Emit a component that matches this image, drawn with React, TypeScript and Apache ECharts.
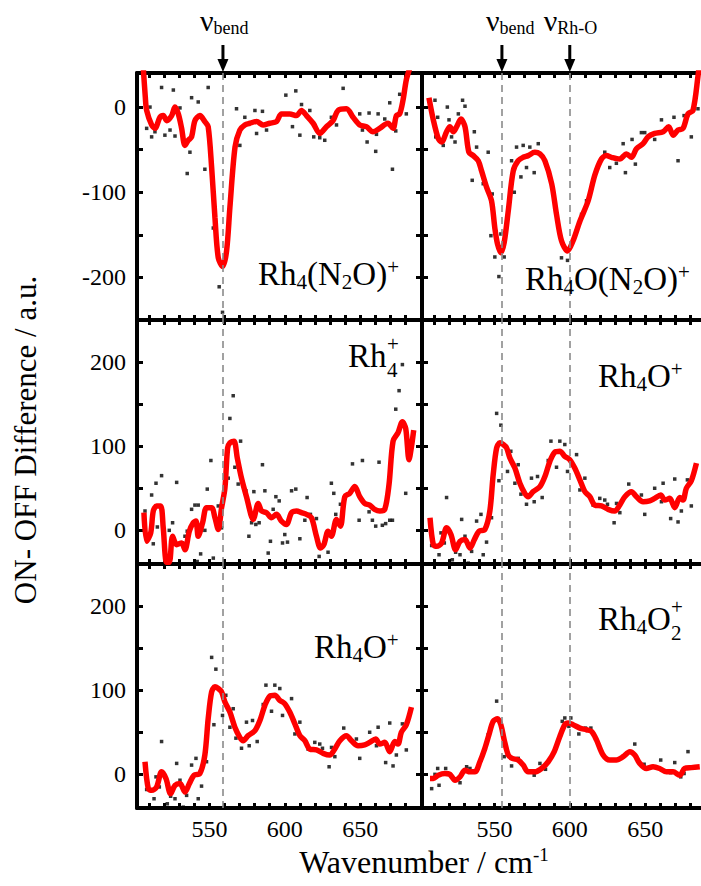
import React, { useEffect, useRef } from "react";
import * as echarts from "echarts";

const SERIF = "Liberation Serif";

// ---- axes ----
const X_MIN = 502;
const X_MAX = 691;
const X_TICKS = [510, 520, 530, 540, 550, 560, 570, 580, 590, 600, 610, 620, 630, 640, 650, 660, 670, 680];
const X_LABELS = [550, 600, 650];
const TOP_MIN = -250;
const TOP_MAX = 40;
const TOP_TICKS = [-200, -150, -100, -50, 0];
const TOP_LABELS = [-200, -100, 0];
const LOW_MIN = -40;
const LOW_MAX = 250;
const LOW_TICKS = [0, 50, 100, 150, 200];
const LOW_LABELS = [0, 100, 200];

// marker positions (cm^-1)
const BEND_LEFT = 559;
const BEND_RIGHT = 555;
const RHO_RIGHT = 600;

// ---- Rh4(N2O)+ ----
const rh4n2oLine = [
  [506.2, 45], [507.5, 12], [508.4, -4], [511.7, -21], [513.9, -25], [517.2, -12], [519.4, -10], [521.7, -16],
  [525, -10], [527.2, 0], [529.4, -8], [531.6, -25], [533.8, -45], [536, -39], [538.2, -35], [540.4, -16],
  [543.7, -10], [547, -17], [549.2, -23], [551.5, -71], [553.7, -130], [555.9, -177], [558.8, -187], [561.4, -169],
  [563.6, -118], [567, -47], [570.2, -27], [573.5, -21], [576.8, -19], [581.3, -17], [585.6, -21], [590, -19],
  [594.5, -17], [597.8, -8], [603.3, -8], [607.8, -10], [611, -4], [614.4, -10], [618.8, -19], [623.2, -31],
  [627.6, -23], [632, -16], [635.3, -4], [640.9, -2], [645.3, -12], [649.7, -21], [654.1, -23], [658.5, -29],
  [662.9, -25], [668.4, -19], [671.8, -25], [674, -10], [676.2, -8], [678.4, 8], [680.6, 32], [682.8, 45],
];
const rh4n2oDots = [
  [518.3, 23], [526.1, 20], [510.6, 0], [508.4, -25], [511.7, -35], [513.9, -29], [520.5, -33], [523.9, -27],
  [527.2, -34], [530.5, -1], [538.2, 11], [542.6, 6], [549.2, 23], [537.1, -53], [535.3, -78], [547, -73],
  [552.6, -142], [556.5, -211], [558.7, -241], [568, -2], [570.2, -45], [573.5, -12], [580.2, -4], [585.2, -5],
  [581.3, -31], [587.9, -27], [600.7, 14], [607.3, 19], [611.1, 3], [605.1, -23], [610, -33], [616.6, -4],
  [619.2, -35], [623.2, -36], [626.5, -39], [630.9, -12], [638.7, 22], [634.3, -21], [649.7, -8], [651.5, -27],
  [654.6, -41], [660.3, -52], [655.9, -7], [661.9, -8], [666.3, -14], [669.6, 5], [671.4, -73], [673.6, -28],
  [676.2, 15], [680.6, -8], [660.8, -32],
];

// ---- Rh4O(N2O)+ ----
const rh4on2oLine = [
  [506.6, 11], [509.5, -15], [512.8, -37], [515, -41], [518.3, -29], [520.5, -23], [522.8, -29], [525, -23],
  [527.8, -14], [530.5, -23], [533.1, -53], [536, -57], [539.3, -63], [541.5, -75], [544.8, -94], [548.1, -110],
  [550.3, -142], [552.1, -161], [554.3, -171], [556.5, -159], [559.2, -122], [562.5, -75], [565.8, -63], [569.1, -59],
  [572.4, -57], [576.8, -53], [580.2, -55], [583.5, -63], [588, -90], [591.2, -126], [594.5, -157], [598.5, -169],
  [602.2, -157], [606.7, -134], [612.2, -110], [616.6, -80], [621, -61], [624.3, -57], [627.6, -59], [633.1, -61],
  [637.6, -55], [640.9, -59], [644.2, -49], [648.6, -43], [651.9, -35], [656.3, -31], [661.9, -29], [665.6, -23],
  [668.5, -33], [671.8, -27], [675.1, -25], [678.4, -8], [681.7, -4], [685, 36], [686.5, 60],
];
const rh4on2oDots = [
  [510.6, 8], [512.4, -12], [511.1, -35], [516.1, -45], [518.8, 0], [519.9, -15], [521.6, -35], [523.9, -41],
  [526.1, -8], [528.9, 8], [530.5, 1], [536.7, -29], [538.2, -47], [535.3, -86], [542.6, -90], [545.9, -53],
  [548.6, -102], [547.7, -151], [550.3, -176], [553, -199], [556.5, -176], [554.3, -149], [563.2, -100], [561.4, -63],
  [564.7, -47], [567.6, -82], [569.1, -45], [571.3, -71], [573.5, -47], [576.4, -77], [579.1, -43], [594.5, -177],
  [598.5, -180], [607.8, -126], [611.1, -110], [623.2, -53], [626.5, -71], [630.9, -66], [635.4, -43], [636.9, -77],
  [641.3, -38], [643.5, -67], [647.5, -30], [649.7, -30], [656.3, -38], [660.8, -15], [669.1, -12], [671.8, -63],
  [675.8, -10], [680.6, -35], [685, -2],
];

// ---- Rh4+ ----
const rh4Line = [
  [506.6, 21], [508.4, -13], [511.1, -3], [512.8, 23], [515, 29], [517.7, 29], [519.4, 3], [521.6, -38],
  [523.4, -38], [525.6, -7], [528.3, -17], [531.6, -15], [533.8, -23], [536.7, -1], [539.3, 9], [541.1, 11],
  [542.6, -7], [545.5, 9], [548.1, 27], [551.5, 27], [553.7, 15], [555.9, 1], [558.1, 27], [560.3, 50],
  [562.1, 98], [563.6, 104], [566.3, 106], [568.5, 86], [571.3, 62], [574.6, 40], [579.1, 13], [582.4, 32],
  [584.6, 23], [587.9, 21], [591.2, 15], [594.5, 19], [597.8, 11], [601.1, 7], [604.5, 21], [607.8, 23],
  [611.1, 21], [614.4, 19], [617.7, 15], [621, -7], [623.7, -21], [625.9, -17], [628.7, -1], [630.9, -7],
  [634.3, 13], [636.9, 5], [639.8, 40], [643.1, 44], [646.4, 52], [649.7, 40], [653, 32], [656.3, 30],
  [659.6, 25], [663, 23], [666.3, 25], [669.1, 54], [671.8, 106], [675.1, 116], [678, 129], [680.2, 121],
  [682.4, 84], [683.9, 98], [685.5, 119],
];
const rh4Dots = [
  [507.3, 23], [511.7, 42], [512.8, -16], [514.6, 56], [515.5, 4], [518.3, 65], [523.4, 0], [525.6, 9],
  [528.3, 57], [532.2, -15], [533.8, -7], [535.3, -1], [538.2, 25], [540.4, 30], [542.6, 30], [541.9, -37],
  [544.2, -28], [547, 0], [548.6, 49], [551, 83], [552.6, -33], [555.9, 29], [558.1, 3], [562.5, 62],
  [563.6, 133], [565.8, 160], [566.9, 75], [569.1, 55], [570.7, 106], [574.2, 47], [576.2, -7], [578, 9],
  [579.5, 46], [580.8, 7], [583, 9], [585.2, 78], [586.8, 47], [589, -27], [590.5, -13], [592.3, 25],
  [594.1, 40], [596.3, 35], [598.5, -15], [600, -5], [601.8, -14], [604.5, 47], [607.3, 49], [610, -10],
  [613.3, 12], [614.8, 39], [617, 19], [621, 14], [622.8, -31], [628.7, -26], [630.9, 56], [632.5, 44],
  [633.8, 19], [636.9, 31], [644.9, 79], [649.3, 12], [651.5, 83], [655.9, 22], [658.1, 12], [660.3, 5],
  [662.5, 81], [664.7, 6], [666.9, 8], [669.6, 12], [671.4, 12], [673.6, 144], [675.8, 166], [678, 197],
  [680.2, 44],
];

// ---- Rh4O+ ----
const rh4oLine = [
  [507.3, 15], [509.5, -17], [511.7, -19], [515, -15], [518.3, 3], [521.2, -5], [524.3, -23], [527.2, -13],
  [530.5, -11], [533.8, -21], [536.7, -11], [539.8, -1], [543.7, 1], [547, 23], [549.2, 66], [551.5, 98],
  [553.7, 104], [555.9, 102], [558.1, 98], [560.3, 86], [563.6, 74], [566.9, 56], [570.2, 44], [572.4, 40],
  [575.7, 46], [580.2, 52], [583.5, 64], [586.8, 82], [590.1, 93], [593.4, 94], [596.7, 88], [600, 84],
  [603.3, 74], [606.7, 60], [610, 46], [613.3, 40], [616.6, 30], [621, 29], [625.4, 25], [629.8, 23],
  [633.1, 30], [636.5, 40], [640.9, 46], [644.2, 40], [648.6, 34], [653, 35], [656.3, 38], [660.3, 42],
  [663, 36], [666.3, 38], [669.6, 27], [673, 39], [675.1, 36], [677.3, 50], [680.6, 59], [684, 80],
];
const rh4oDots = [
  [508.4, -18], [513.3, -29], [514.6, -3], [518.3, 39], [516.8, -15], [522.1, -35], [524.3, -26], [528.3, 13],
  [530.5, -7], [527.2, -29], [532.7, -39], [534.9, -25], [538.2, 11], [541.1, 19], [542.6, -29], [544.8, -14],
  [548.1, 15], [551.5, 139], [554.3, 125], [553, 59], [560.9, 94], [563.6, 56], [565.8, 78], [558.7, 70],
  [567.6, 43], [571.3, 31], [574.6, 62], [576.4, 34], [578.6, 64], [581.7, 39], [585.7, 83], [587.5, 106],
  [591.2, 75], [593.4, 106], [596.7, 102], [598.5, 70], [604.5, 90], [606.7, 48], [610, 62], [615.5, 30],
  [619.9, 38], [623.2, 36], [625, 31], [629.4, 9], [631, 32], [633.2, 21], [639.1, 55], [647.5, 42],
  [649.7, 19], [656.3, 50], [661.9, 56], [660.8, 34], [666.9, 14], [669.6, 61], [671.8, 10], [674, 23],
  [678, 60], [680.6, 29],
];

// ---- Rh4O2+ ----
const rh4o2Line = [
  [507.3, -5], [509.5, -5], [512.8, -1], [517.2, 1], [520.5, 0], [523.9, -7], [527.2, -3], [530.5, 5],
  [533.8, 3], [537.1, 3], [540.4, 15], [543.7, 31], [546.4, 47], [549.2, 63], [552.1, 66], [554.3, 59],
  [556.5, 41], [559.2, 23], [561.8, 19], [565.8, 17], [569.1, 11], [572.4, 3], [576.8, 3], [581.3, 7],
  [585.7, 15], [589.7, 27], [593.4, 45], [596.7, 59], [598.9, 61], [602.2, 59], [606.7, 55], [611.1, 53],
  [614.4, 51], [617.7, 41], [622.1, 23], [626.5, 17], [630.9, 17], [635.4, 21], [639.8, 27], [643.1, 23],
  [646.4, 13], [650.8, 7], [655.2, 9], [659.6, 7], [664.1, 3], [668.5, 3], [672.9, -1], [676.2, 7],
  [680.6, 8], [686.2, 9],
];
const rh4o2Dots = [
  [508.4, -17], [510.6, 0], [512.4, 7], [513.3, -13], [517.7, 7], [527.2, -10], [531.6, 9], [535.3, 3],
  [533.8, 7], [541.1, 17], [545.9, 47], [551.5, 87], [556.5, 21], [561.4, 10], [565.8, 19], [573.5, 4],
  [576.4, -1], [580.2, 13], [583.9, 6], [595, 63], [596.7, 67], [599.4, 57], [600.7, 67], [606, 48],
  [610.4, 55], [614, 55], [628.7, 17], [643.1, 36], [649.3, 12], [651.5, 8], [660.3, 17], [666.9, 2],
  [669.6, 14], [673.6, -3], [675.8, 1], [678.4, 27],
];

const panels = [
  { line: rh4n2oLine, dots: rh4n2oDots, col: 0, row: 0, marks: [BEND_LEFT] },
  { line: rh4on2oLine, dots: rh4on2oDots, col: 1, row: 0, marks: [BEND_RIGHT, RHO_RIGHT] },
  { line: rh4Line, dots: rh4Dots, col: 0, row: 1, marks: [BEND_LEFT] },
  { line: rh4oLine, dots: rh4oDots, col: 1, row: 1, marks: [BEND_RIGHT, RHO_RIGHT] },
  { line: rh4oLine, dots: rh4oDots, col: 0, row: 2, marks: [BEND_LEFT] },
  { line: rh4o2Line, dots: rh4o2Dots, col: 1, row: 2, marks: [BEND_RIGHT, RHO_RIGHT] },
];

const COL_LEFT = [137, 422];
const COL_WIDTH = 285;
const ROW_TOP = [73, 320, 564];
const ROW_HEIGHT = [247, 244, 244];

const FRAME = { color: "#000", width: 4 };

const richStyles: any = {
  m: { fontSize: 33, lineHeight: 36, fontFamily: SERIF, fill: "#000" },
  s: { fontSize: 21, lineHeight: 14, verticalAlign: "bottom", fontFamily: SERIF, fill: "#000" },
  p: { fontSize: 21, lineHeight: 14, verticalAlign: "top", fontFamily: SERIF, fill: "#000" },
  v: { fontSize: 30, lineHeight: 34, fontFamily: SERIF, fill: "#000" },
  b: { fontSize: 18, lineHeight: 12, verticalAlign: "bottom", fontFamily: SERIF, fill: "#000" },
  t: { fontSize: 32, lineHeight: 34, fontFamily: SERIF, fill: "#000" },
  e: { fontSize: 19, lineHeight: 12, verticalAlign: "top", fontFamily: SERIF, fill: "#000" },
};

function richText(text: string, x: number, y: number, align = "left"): any {
  return {
    type: "text",
    x,
    y,
    z: 20,
    silent: true,
    style: { text, rich: richStyles, align, verticalAlign: "middle", fontFamily: SERIF, fontSize: 33, fill: "#000" },
  };
}

function plainText(text: string, x: number, y: number, size: number, align = "center", rotation = 0): any {
  return {
    type: "text",
    x,
    y,
    rotation,
    z: 20,
    silent: true,
    style: {
      text,
      font: `${size}px ${SERIF}`,
      fontSize: size,
      fontFamily: SERIF,
      fill: "#000",
      align,
      verticalAlign: "middle",
    },
  };
}

function arrow(x: number): any[] {
  return [
    { type: "line", z: 20, silent: true, shape: { x1: x, y1: 45, x2: x, y2: 62 }, style: { stroke: "#000", lineWidth: 3 } },
    { type: "polygon", z: 20, silent: true, shape: { points: [[x - 5.5, 59], [x + 5.5, 59], [x, 72]] }, style: { fill: "#000" } },
  ];
}

export default function App() {
  const ref = useRef<HTMLDivElement>(null);
  useEffect(() => {
    const el = ref.current!;
    const chart = echarts.init(el, null, { renderer: "svg" });
    const grid: any[] = [];
    const xAxis: any[] = [];
    const yAxis: any[] = [];
    const series: any[] = [];
    panels.forEach((p, i) => {
      grid.push({
        left: COL_LEFT[p.col],
        top: ROW_TOP[p.row],
        width: COL_WIDTH,
        height: ROW_HEIGHT[p.row],
        containLabel: false,
        outerBoundsMode: "none",
      });
      const isTop = p.row === 0;
      const yMin = isTop ? TOP_MIN : LOW_MIN;
      const yMax = isTop ? TOP_MAX : LOW_MAX;
      const yTicks = isTop ? TOP_TICKS : LOW_TICKS;
      const yLabels = isTop ? TOP_LABELS : LOW_LABELS;
      ["bottom", "top"].forEach((pos, k) => {
        xAxis.push({
          type: "value",
          gridIndex: i,
          position: pos,
          min: X_MIN,
          max: X_MAX,
          axisLine: { show: true, onZero: false, lineStyle: FRAME },
          axisTick: { show: true, inside: true, length: 5, customValues: X_TICKS, lineStyle: { color: "#000", width: 3 } },
          axisLabel: {
            show: k === 0 && p.row === 2,
            customValues: X_LABELS,
            fontSize: 24,
            fontFamily: SERIF,
            color: "#000",
            margin: 9,
          },
          splitLine: { show: false },
        });
      });
      ["left", "right"].forEach((pos, k) => {
        yAxis.push({
          type: "value",
          gridIndex: i,
          position: pos,
          min: yMin,
          max: yMax,
          axisLine: { show: true, onZero: false, lineStyle: FRAME },
          axisTick: { show: true, inside: true, length: 6, customValues: yTicks, lineStyle: { color: "#000", width: 3 } },
          axisLabel: {
            show: k === 0 && p.col === 0,
            customValues: yLabels,
            fontSize: 24,
            fontFamily: SERIF,
            color: "#000",
            margin: 11,
          },
          splitLine: { show: false },
        });
      });
      series.push({
        type: "scatter",
        xAxisIndex: 2 * i,
        yAxisIndex: 2 * i,
        data: p.dots,
        symbol: "rect",
        symbolSize: 3.5,
        itemStyle: { color: "#000" },
        z: 2,
        silent: true,
      });
      series.push({
        type: "line",
        xAxisIndex: 2 * i,
        yAxisIndex: 2 * i,
        data: p.line,
        showSymbol: false,
        smooth: 0.3,
        clip: true,
        lineStyle: { color: "#ff0000", width: 5.5 },
        z: 3,
        silent: true,
        markLine: {
          silent: true,
          symbol: ["none", "none"],
          label: { show: false },
          lineStyle: { color: "#8a8a8a", type: [7, 5], width: 1.6 },
          data: p.marks.map((v) => ({ xAxis: v })),
        },
      });
    });

    chart.setOption({ animation: false, grid, xAxis, yAxis, series });

    const xl = chart.convertToPixel({ xAxisIndex: 0 }, BEND_LEFT) as number;
    const xb = chart.convertToPixel({ xAxisIndex: 2 }, BEND_RIGHT) as number;
    const xr = chart.convertToPixel({ xAxisIndex: 2 }, RHO_RIGHT) as number;

    // Stacked sub/superscripts placed beside the main glyphs ("Rh" ≈ 38.5px, "Rh4O" ≈ 73px wide at 33px)
    const graphic: any[] = [
      ...arrow(xl),
      ...arrow(xb),
      ...arrow(xr),
      richText("{v|ν}{b|bend}", xl - 23, 20),
      richText("{v|ν}{b|bend}", xb - 16, 20),
      richText("{v|ν}{b|Rh-O}", xr - 26, 20),
      richText("{m|Rh}{s|4}{m|(N}{s|2}{m|O)}{p|+}", 258, 274),
      richText("{m|Rh}{s|4}{m|O(N}{s|2}{m|O)}{p|+}", 525, 279),
      plainText("Rh", 348, 356, 33, "left"),
      plainText("4", 387, 370, 21, "left"),
      plainText("+", 387, 344, 21, "left"),
      richText("{m|Rh}{s|4}{m|O}{p|+}", 598, 376),
      richText("{m|Rh}{s|4}{m|O}{p|+}", 314, 647),
      richText("{m|Rh}{s|4}{m|O}", 598, 619),
      plainText("2", 671, 633, 21, "left"),
      plainText("+", 671, 607, 21, "left"),
      plainText("ON- OFF Difference / a.u.", 25, 440, 31, "center", Math.PI / 2),
      richText("{t|Wavenumber / cm}{e|-1}", 424, 862, "center"),
    ];
    chart.setOption({ graphic });

    return () => chart.dispose();
  }, []);
  return (
    <div
      ref={ref}
      style={{ position: "fixed", left: 0, top: 0, width: 701, height: 886, background: "#fff" }}
    />
  );
}
